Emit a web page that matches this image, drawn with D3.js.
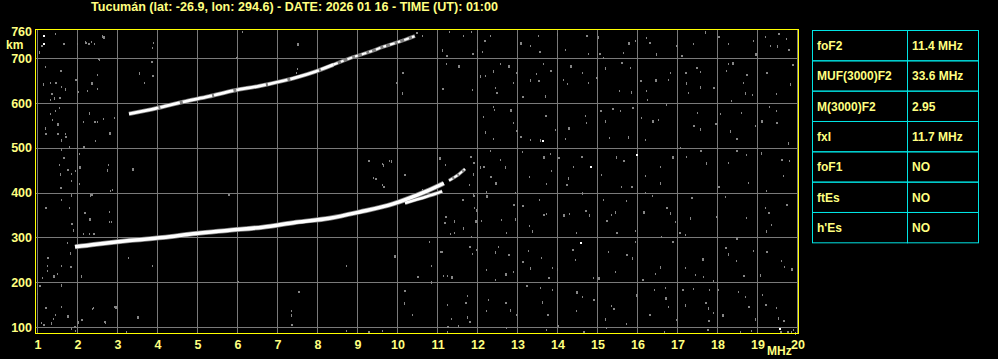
<!DOCTYPE html>
<html>
<head>
<meta charset="utf-8">
<script src="https://cdn.jsdelivr.net/npm/d3@7"></script>
<style>
  body { margin: 0; background: #000; }
  svg { display: block; }
  text { font-family: "Liberation Sans", Arial, sans-serif; font-weight: bold; }
</style>
</head>
<body>
<svg id="chart" width="998" height="359"></svg>
<script>
// ---- data ----
const title = "Tucumán (lat: -26.9, lon: 294.6) - DATE: 2026 01 16 - TIME (UT): 01:00";
const freqTicks = d3.range(1, 21);            // MHz
const heightTicks = [100, 200, 300, 400, 500, 600, 700];
const heightTop = 760;

// F2 trace (one hop), [MHz, km]
const traceF2 = [[1.95,279],[2.48,285],[3.31,293],[4.14,300],[4.98,309],[5.81,316],[6.64,323],
  [7.48,334],[8.31,343],[9.07,357],[9.9,375],[10.73,403],[11.17,421]];
// split branch near foF2
const traceF2b = [[10.2,377],[10.73,391],[11.13,403]];
// extraordinary piece up to fxI
const traceX = [[11.3,427],[11.5,438],[11.7,453]];
// second hop trace
const trace2F2 = [[3.3,576],[4.0,589],[4.66,603],[5.3,615],[5.91,628],[6.55,638],[7.16,650],[7.55,659],
  [7.91,669],[8.41,686],[8.91,703],[9.3,714],[9.66,726],[10.05,737],[10.45,750]];

// scattered noise echoes, [MHz, km]
const noise = [
  [1.1,730],[1.04,717],[1.46,757],[1.65,735],[2.0,735],[2.21,739],[2.27,735],[2.35,739],[2.42,735],[2.65,750],
  [2.55,698],[1.21,683],[1.57,674],[1.15,644],[1.33,648],[1.46,648],[1.6,638],[1.71,633],[1.96,655],[2.02,628],
  [2.25,630],[2.35,648],[2.5,665],[2.5,633],[1.35,623],[1.42,613],[1.32,610],[1.54,613],[1.56,591],[1.21,546],
  [1.21,534],[1.32,579],[1.37,564],[1.5,556],[1.46,585],[1.71,534],[1.71,527],[1.6,521],[1.79,504],[1.5,534],
  [2.15,559],[2.3,581],[2.43,559],[2.5,559],[2.65,566],[2.81,536],[2.92,570],[2.46,518],[2.15,504],[1.6,499],
  [2.04,489],[1.65,480],[1.55,465],[1.57,443],[1.75,454],[1.86,443],[1.96,450],[2.04,459],[2.05,422],[1.85,429],
  [1.57,412],[2.75,454],[2.87,409],[2.35,397],[1.6,387],[1.85,396],[1.21,367],[1.81,369],[2.21,357],[2.29,343],
  [2.81,360],[2.85,337],[1.85,333],[1.9,320],[2.15,309],[2.4,309],[1.75,290],[1.82,268],[1.25,257],[1.25,238],
  [1.25,227],[1.4,216],[1.5,221],[1.6,238],[1.82,236],[2.1,216],[1.12,212],[1.04,194],[1.0,175],[1.6,197],
  [1.21,144],[1.6,147],[1.46,130],[1.75,127],[1.39,121],[1.1,112],[1.15,107],[1.35,112],[1.85,97],[1.93,102],
  [1.96,93],[2.02,114],[2.11,117],[2.4,144],[2.71,112],[2.96,147],
  [3.9,737],[3.88,726],[3.84,693],[3.55,670],[3.68,648],[3.88,663],[2.53,700],[2.63,752],[2.2,737],[6.13,761],
  [5.97,704],[7.51,734],[7.51,678],[7.48,670],[10.13,670],[10.13,625],[9.97,648],[10.47,760],[10.63,752],[11.13,722],
  [11.22,707],[11.3,761],[11.22,689],[11.53,685],[11.65,752],[11.84,761],[11.88,711],[12.0,722],[12.13,717],[11.12,633],
  [11.88,631],[12.08,663],[12.17,741],[5.99,705],
  [2.77,463],[3.38,456],[2.81,336],[2.31,310],[2.18,357],[2.33,398],[2.83,407],[5.78,398],[9.39,434],[9.64,465],
  [9.64,416],[9.8,472],[10.18,441],[9.93,260],[10.79,292],[11.08,269],[11.18,334],[11.43,338],[11.33,310],[11.62,387],
  [11.9,400],[11.9,443],[11.9,469],[11.8,420],[11.93,368],[11.96,338],[11.98,275],[11.85,304],[11.8,282],[11.64,323],
  [11.43,312],[9.28,474],[9.63,466],[9.84,474],[9.44,433],[9.63,419],[10.19,442],[11.04,480],[11.19,465],[10.63,408],
  [11.83,483],[12.08,460],[12.23,403],[11.9,395],[11.63,386],[11.97,364],[11.19,348],
  [3.28,257],[3.88,239],[3.49,125],[2.93,147],[2.38,143],[2.68,113],[3.23,90],[6.03,203],[7.53,181],[7.34,139],
  [7.34,130],[7.34,107],[8.73,239],[8.73,94],[9.28,90],[9.63,94],[9.94,261],[10.18,183],[10.18,155],[10.38,130],
  [10.49,213],[10.84,239],[10.84,203],[11.09,270],[11.14,216],[11.24,216],[11.34,213],[11.24,152],[11.34,120],[11.24,103],
  [11.24,90],[11.53,105],[11.69,155],[11.74,172],[11.74,125],[11.79,113],[11.88,266],
  [12.32,752],[13.07,737],[13.33,730],[13.53,752],[13.55,717],[14.0,757],[14.19,721],[14.73,752],[14.78,711],[15.03,749],
  [15.04,711],[15.15,704],[15.65,715],[15.78,737],[15.94,741],[16.23,747],[16.29,737],[16.48,713],[16.98,730],[17.09,707],
  [17.39,735],[17.69,761],[18.03,749],[18.28,734],[18.9,741],[18.94,713],[19.19,749],[19.32,730],[19.53,756],[19.51,730],
  [19.73,745],[19.78,722],
  [12.19,663],[12.39,674],[12.48,625],[12.44,635],[12.58,689],[12.78,685],[12.9,648],[12.98,670],[13.13,616],[13.32,655],
  [13.48,668],[13.53,651],[13.65,689],[13.69,618],[13.83,674],[14.15,655],[14.25,644],[14.32,685],[14.63,670],[14.78,648],
  [14.98,659],[15.19,681],[15.55,629],[15.61,691],[15.82,680],[15.86,628],[16.07,651],[16.23,629],[16.25,610],[16.44,655],
  [16.78,655],[16.83,670],[17.19,670],[17.23,648],[17.28,625],[17.48,681],[17.58,672],[17.57,638],[17.9,637],[18.23,674],
  [18.28,689],[18.38,691],[18.36,607],[18.65,648],[18.73,666],[18.7,625],[18.88,620],[19.23,670],[19.48,622],[19.82,644],
  [19.88,687],
  [12.4,593],[12.42,588],[12.82,587],[12.15,572],[12.9,558],[12.98,540],[12.19,537],[12.4,522],[13.07,526],[13.32,521],
  [13.57,521],[13.69,573],[13.94,543],[14.19,522],[14.28,547],[14.69,573],[14.73,558],[15.07,584],[15.19,562],[15.3,525],
  [15.38,590],[15.57,584],[15.78,526],[15.88,592],[16.09,568],[16.19,521],[16.38,562],[16.52,564],[16.73,599],[17.4,552],
  [17.57,545],[17.49,581],[17.94,556],[18.08,577],[18.33,540],[18.48,522],[18.61,581],[18.94,551],[19.09,562],[19.29,593],
  [19.48,584],[19.48,558],[19.78,513],
  [12.32,495],[12.15,459],[12.58,476],[12.69,459],[12.32,437],[13.13,493],[13.3,437],[13.65,481],[13.82,488],[13.86,450],
  [14.03,479],[14.28,435],[14.39,459],[14.61,481],[15.11,441],[15.48,481],[15.65,474],[16.19,439],[16.57,459],
  [16.88,481],[17.07,503],[17.23,481],[17.57,496],[17.73,469],[18.28,469],[18.47,496],[18.73,487],[19.11,491],[19.61,476],
  [19.8,472],[19.65,439],
  [12.44,424],[12.94,401],[13.73,422],[14.23,419],[14.63,401],[15.61,416],[15.86,416],[16.19,401],[16.57,424],[18.03,416],
  [18.78,424],[19.23,405],
  [12.23,394],[12.11,338],[12.61,342],[12.9,375],[12.94,344],[12.73,312],[13.13,372],[13.3,328],[13.38,316],[13.65,353],
  [13.73,354],[13.55,387],[14.15,353],[14.3,354],[14.48,312],[14.69,362],[14.8,353],[15.15,387],[15.23,338],[15.36,353],
  [15.44,360],[15.48,312],[15.73,383],[15.94,317],[16.15,360],[16.38,394],[16.61,304],[16.73,368],[16.82,357],[16.94,336],
  [17.05,312],[17.19,308],[17.33,346],[17.34,390],[17.98,349],[18.19,392],[18.48,301],[18.73,346],[19.19,368],[19.28,357],
  [19.23,317],[19.34,331],[19.73,375],
  [12.53,282],[12.44,269],[12.78,263],[12.23,230],[12.44,207],[12.69,220],[12.9,226],[13.28,271],[13.13,247],[13.32,234],
  [13.59,256],[13.78,211],[13.88,234],[14.0,232],[14.38,275],[14.44,252],[14.9,211],[15.03,211],[15.28,269],[15.44,226],
  [15.73,263],[15.88,256],[15.94,292],[16.13,207],[16.44,220],[16.58,237],[16.88,291],[17.19,234],[17.44,219],[17.63,254],
  [17.65,215],[17.9,204],[18.19,278],[18.28,265],[18.48,250],[18.65,216],[18.9,273],[19.07,219],[19.23,269],[19.6,250],
  [19.68,237],[19.86,232],
  [12.28,163],[12.23,137],[12.69,155],[12.83,140],[12.98,129],[13.23,193],[13.57,190],[13.62,159],[13.74,128],[13.88,185],
  [14.02,105],[14.48,181],[14.63,170],[14.48,137],[14.9,163],[15.21,120],[15.36,150],[15.4,143],[15.73,108],[15.98,174],
  [16.3,129],[16.43,185],[16.69,190],[16.69,168],[16.78,148],[16.97,118],[17.13,185],[17.19,151],[17.4,187],[17.69,155],
  [17.79,185],[17.78,144],[17.77,116],[17.9,133],[18.03,185],[18.13,129],[18.53,180],[18.7,170],[18.78,148],[18.94,120],
  [19.13,174],[19.21,151],[19.48,145],[19.53,123],[19.65,116],
  [12.73,101],[13.73,96],[14.64,90],[15.23,101],[16.67,90],[17.75,96],[18.57,90],[18.86,93],[19.57,91],[19.86,90],
  [19.95,88],[19.75,92],[19.9,95]
];
// a few strong single echoes
const noiseWhite = [[1.15,752],[1.15,735],[13.63,517],[15.98,486],[14.83,459],[14.58,290],[19.54,97]];

// ionospheric parameters table
const paramNames = ["foF2", "MUF(3000)F2", "M(3000)F2", "fxI", "foF1", "ftEs", "h'Es"];
const paramValues = ["11.4 MHz", "33.6 MHz", "2.95", "11.7 MHz", "NO", "NO", "NO"];

// ---- drawing ----
const svg = d3.select("#chart");
const yellow = "#ffff80";

const x = d3.scaleLinear().domain([1, 20]).range([37, 797]);
const y = d3.scaleLinear().domain([100, heightTop]).range([327, 31.5]);

svg.append("rect").attr("width", 998).attr("height", 359).attr("fill", "#000");

// title
svg.append("text")
  .attr("x", 91).attr("y", 11)
  .attr("font-size", 12)
  .attr("textLength", 407)
  .attr("lengthAdjust", "spacingAndGlyphs")
  .attr("fill", yellow)
  .text(title);

// grid
const grid = svg.append("g").attr("stroke", "#7a7a7a").attr("stroke-width", 1);
grid.selectAll("line.v")
  .data(freqTicks)
  .enter().append("line")
  .attr("class", "v")
  .attr("x1", d => Math.round(x(d)) + 0.5).attr("x2", d => Math.round(x(d)) + 0.5)
  .attr("y1", 30).attr("y2", 333);
grid.selectAll("line.h")
  .data(heightTicks)
  .enter().append("line")
  .attr("class", "h")
  .attr("x1", 36).attr("x2", 798)
  .attr("y1", d => Math.round(y(d)) + 0.5).attr("y2", d => Math.round(y(d)) + 0.5);

// noise echoes
svg.append("g").selectAll("rect")
  .data(noise)
  .enter().append("rect")
  .attr("x", d => Math.round(x(d[0])))
  .attr("y", d => Math.round(y(d[1])))
  .attr("width", (d, i) => i % 3 === 0 ? 2 : 1)
  .attr("height", (d, i) => i % 4 === 1 ? 3 : 2)
  .attr("fill", "#858585");

// traces: grey halo under a white core
const line = d3.line()
  .x(d => x(d[0]))
  .y(d => y(d[1]))
  .curve(d3.curveCatmullRom);

const secondHopSolid = trace2F2.filter(d => d[0] <= 8.5);
const secondHopBroken = trace2F2.filter(d => d[0] >= 8.41);

const traces = [
  { pts: traceF2, w: 3.5, dash: null },
  { pts: traceF2b, w: 2.5, dash: null },
  { pts: traceX, w: 2, dash: "4 2" },
  { pts: secondHopSolid, w: 2.8, dash: "30 2 20 3" },
  { pts: secondHopBroken, w: 2.2, dash: "5 3 3 4" }
];
const tg = svg.append("g").attr("fill", "none");
tg.selectAll("path.halo")
  .data(traces)
  .enter().append("path")
  .attr("class", "halo")
  .attr("d", d => line(d.pts))
  .attr("stroke", "#808080")
  .attr("stroke-width", d => d.w + 1.5);
tg.selectAll("path.core")
  .data(traces)
  .enter().append("path")
  .attr("class", "core")
  .attr("d", d => line(d.pts))
  .attr("stroke", "#fff")
  .attr("stroke-width", d => d.w)
  .attr("stroke-dasharray", d => d.dash);

svg.append("g").selectAll("rect")
  .data(noiseWhite)
  .enter().append("rect")
  .attr("x", d => Math.round(x(d[0])))
  .attr("y", d => Math.round(y(d[1])))
  .attr("width", 2).attr("height", 2)
  .attr("fill", "#fff");

// frame
svg.append("rect")
  .attr("x", 35.5).attr("y", 29.5)
  .attr("width", 763).attr("height", 304)
  .attr("fill", "none")
  .attr("stroke", "#ffff00")
  .attr("stroke-width", 1);

// frequency labels
svg.append("g").selectAll("text")
  .data(freqTicks)
  .enter().append("text")
  .attr("x", d => x(d) + 1)
  .attr("y", 349)
  .attr("text-anchor", "middle")
  .attr("font-size", 12.5)
  .attr("fill", yellow)
  .text(d => d);
svg.append("text")
  .attr("x", 767).attr("y", 355)
  .attr("font-size", 12)
  .attr("fill", yellow)
  .text("MHz");

// height labels
svg.append("g").selectAll("text")
  .data(heightTicks.concat([heightTop]))
  .enter().append("text")
  .attr("x", 32)
  .attr("y", d => y(d))
  .attr("dy", "0.36em")
  .attr("text-anchor", "end")
  .attr("font-size", 12.5)
  .attr("fill", yellow)
  .text(d => d);
svg.append("text")
  .attr("x", 6).attr("y", 45)
  .attr("dy", "0.36em")
  .attr("font-size", 12)
  .attr("fill", yellow)
  .text("km");

// parameter table
const rowH = 30.33, tx = 812, ty = 30.5, colSplit = 907, tRight = 978;
const table = svg.append("g");
const rows = table.selectAll("g")
  .data(paramNames)
  .enter().append("g")
  .attr("transform", (d, i) => `translate(0, ${ty + i * rowH})`);
rows.append("rect")
  .attr("x", tx + 0.5).attr("width", colSplit - tx).attr("height", rowH)
  .attr("fill", "none").attr("stroke", "#00e4e4");
rows.append("rect")
  .attr("x", colSplit + 0.5).attr("width", tRight - colSplit).attr("height", rowH)
  .attr("fill", "none").attr("stroke", "#00e4e4");
rows.append("text")
  .attr("x", 817).attr("y", rowH / 2).attr("dy", "0.36em")
  .attr("font-size", 12).attr("fill", yellow)
  .text(d => d);
rows.append("text")
  .attr("x", 912).attr("y", rowH / 2).attr("dy", "0.36em")
  .attr("font-size", 12).attr("fill", yellow)
  .text((d, i) => paramValues[i]);
</script>
</body>
</html>
